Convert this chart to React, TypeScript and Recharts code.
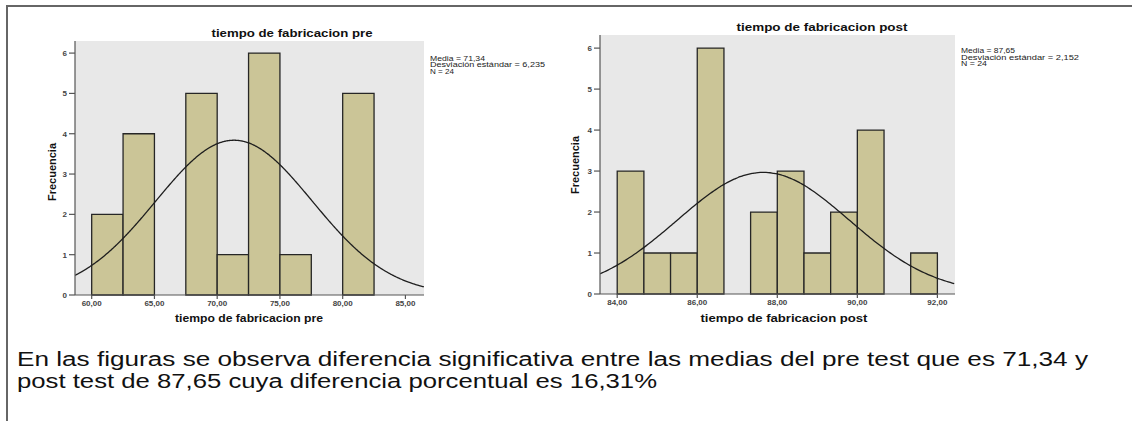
import {
    ComposedChart,
    XAxis,
    YAxis,
    Line,
    ReferenceArea,
    CartesianGrid,
} from "recharts";

// histogram bins: left edge of each bin and its frequency
const PRE_BIN_STARTS = [60, 62.5, 65, 67.5, 70, 72.5, 75, 77.5, 80];
const PRE_COUNTS = [2, 4, 0, 5, 1, 6, 1, 0, 5];
const PRE_BIN_WIDTH = 2.5;
const PRE_X_TICKS = [60, 65, 70, 75, 80, 85];
const PRE_X_DOMAIN = [58.67, 86.48];
const PRE_STATS = { media: 71.34, sd: 6.235, n: 24 };

const POST_BIN_STARTS = [84, 84.667, 85.333, 86, 86.667, 87.333, 88, 88.667, 89.333, 90, 90.667, 91.333];
const POST_COUNTS = [3, 1, 1, 6, 0, 2, 3, 1, 2, 4, 0, 1];
const POST_BIN_WIDTH = 0.667;
const POST_X_TICKS = [84, 86, 88, 90, 92];
const POST_X_DOMAIN = [83.57, 92.44];
const POST_STATS = { media: 87.65, sd: 2.152, n: 24 };

const Y_TICKS = [0, 1, 2, 3, 4, 5, 6];

const BAR_FILL = "#cbc597";
const BAR_STROKE = "#262626";
const PLOT_BG = "#e8e8e8";
const FRAME = "#555";

const FONT = "'Liberation Sans', Arial, sans-serif";

const fmt = (v: number) => v.toFixed(2).replace(".", ",");

// fitted normal curve (frequency scale) over the x domain
function normalCurve(domain: number[], mean: number, sd: number, n: number, bw: number) {
    const pts: { x: number; y: number }[] = [];
    const k = (n * bw) / (sd * Math.sqrt(2 * Math.PI));
    for (let x = domain[0]; x <= domain[1] + 1e-9; x += 0.05) {
        pts.push({ x, y: k * Math.exp(-((x - mean) ** 2) / (2 * sd * sd)) });
    }
    return pts;
}

type HistProps = {
    starts: number[];
    counts: number[];
    bw: number;
    ticks: number[];
    domain: number[];
    stats: { media: number; sd: number; n: number };
    yMax: number;
    width: number;
    height: number;
    xAxisHeight: number;
    marginTop: number;
};

function Histogram(p: HistProps) {
    const curve = normalCurve(p.domain, p.stats.media, p.stats.sd, p.stats.n, p.bw);
    const tickStyle = { fill: "#444", fontSize: 8, fontWeight: 700, fontFamily: FONT };
    return (
        <ComposedChart
            width={p.width}
            height={p.height}
            data={curve}
            margin={{ top: p.marginTop, right: 6, bottom: 5, left: 0 }}
        >
            <CartesianGrid horizontal={false} vertical={false} fill={PLOT_BG} fillOpacity={1} />
            <XAxis
                dataKey="x"
                type="number"
                domain={p.domain}
                ticks={p.ticks}
                tickFormatter={fmt}
                allowDataOverflow
                height={p.xAxisHeight}
                tickSize={4}
                tickMargin={1}
                tick={tickStyle}
                stroke={FRAME}
                strokeWidth={1.2}
            />
            <XAxis
                xAxisId="top"
                orientation="top"
                type="number"
                domain={p.domain}
                allowDataOverflow
                height={0}
                tick={false}
                tickLine={false}
                stroke={FRAME}
                strokeWidth={1.2}
            />
            <YAxis
                type="number"
                domain={[0, p.yMax]}
                ticks={Y_TICKS}
                allowDataOverflow
                width={45}
                tickSize={6}
                tickMargin={2}
                tick={tickStyle}
                stroke={FRAME}
                strokeWidth={1.2}
            />
            <YAxis
                yAxisId="right"
                orientation="right"
                type="number"
                domain={[0, p.yMax]}
                allowDataOverflow
                width={0}
                tick={false}
                tickLine={false}
                stroke={FRAME}
                strokeWidth={1.2}
            />
            {p.starts.map((s, i) =>
                p.counts[i] > 0 ? (
                    <ReferenceArea
                        key={i}
                        x1={s}
                        x2={s + p.bw}
                        y1={0}
                        y2={p.counts[i]}
                        fill={BAR_FILL}
                        fillOpacity={1}
                        stroke={BAR_STROKE}
                        strokeWidth={1.3}
                        ifOverflow="visible"
                    />
                ) : null
            )}
            <Line
                dataKey="y"
                type="monotone"
                dot={false}
                stroke="#1e1e1e"
                strokeWidth={1.3}
                isAnimationActive={false}
            />
        </ComposedChart>
    );
}

export default function App() {
    const bold = { fontFamily: FONT, fontWeight: 700, fill: "#111" };
    const small = { fontFamily: FONT, fontSize: 7, fill: "#222" };
    return (
        <div
            style={{
                position: "absolute",
                left: 0,
                top: 0,
                width: 1132,
                height: 421,
                background: "#fff",
                overflow: "hidden",
            }}
        >
            <div style={{ position: "absolute", left: 30, top: 20 }}>
                <Histogram
                    starts={PRE_BIN_STARTS}
                    counts={PRE_COUNTS}
                    bw={PRE_BIN_WIDTH}
                    ticks={PRE_X_TICKS}
                    domain={PRE_X_DOMAIN}
                    stats={PRE_STATS}
                    yMax={6.3}
                    width={400}
                    height={300}
                    xAxisHeight={20}
                    marginTop={21}
                />
            </div>
            <div style={{ position: "absolute", left: 555, top: 15 }}>
                <Histogram
                    starts={POST_BIN_STARTS}
                    counts={POST_COUNTS}
                    bw={POST_BIN_WIDTH}
                    ticks={POST_X_TICKS}
                    domain={POST_X_DOMAIN}
                    stats={POST_STATS}
                    yMax={6.32}
                    width={406}
                    height={300}
                    xAxisHeight={16}
                    marginTop={20}
                />
            </div>
            <svg
                width={1132}
                height={421}
                style={{ position: "absolute", left: 0, top: 0, pointerEvents: "none" }}
            >
                {/* outer frame */}
                <line x1={7} y1={6} x2={1132} y2={6} stroke="#666" strokeWidth={2} />
                <line x1={7} y1={5} x2={7} y2={421} stroke="#666" strokeWidth={2} />

                {/* pre */}
                <text x={292} y={36.5} textAnchor="middle" fontSize={11} textLength={161} lengthAdjust="spacingAndGlyphs" {...bold}>
                    tiempo de fabricacion pre
                </text>
                <text x={249} y={322} textAnchor="middle" fontSize={10.5} textLength={148} lengthAdjust="spacingAndGlyphs" {...bold}>
                    tiempo de fabricacion pre
                </text>
                <text transform="translate(56,172) rotate(-90)" textAnchor="middle" fontSize={11} {...bold}>
                    Frecuencia
                </text>
                <text x={430} y={60.5} textLength={55} lengthAdjust="spacingAndGlyphs" {...small}>
                    Media = {fmt(PRE_STATS.media)}
                </text>
                <text x={430} y={67} textLength={115} lengthAdjust="spacingAndGlyphs" {...small}>
                    Desviación estándar = {PRE_STATS.sd.toFixed(3).replace(".", ",")}
                </text>
                <text x={430} y={73.5} textLength={24} lengthAdjust="spacingAndGlyphs" {...small}>
                    N = {PRE_STATS.n}
                </text>

                {/* post */}
                <text x={822} y={31} textAnchor="middle" fontSize={11} textLength={171} lengthAdjust="spacingAndGlyphs" {...bold}>
                    tiempo de fabricacion post
                </text>
                <text x={784} y={322} textAnchor="middle" fontSize={10.5} textLength={167} lengthAdjust="spacingAndGlyphs" {...bold}>
                    tiempo de fabricacion post
                </text>
                <text transform="translate(579,165) rotate(-90)" textAnchor="middle" fontSize={11} {...bold}>
                    Frecuencia
                </text>
                <text x={961} y={53} textLength={54} lengthAdjust="spacingAndGlyphs" {...small}>
                    Media = {fmt(POST_STATS.media)}
                </text>
                <text x={961} y={59.5} textLength={118} lengthAdjust="spacingAndGlyphs" {...small}>
                    Desviación estándar = {POST_STATS.sd.toFixed(3).replace(".", ",")}
                </text>
                <text x={961} y={66} textLength={26} lengthAdjust="spacingAndGlyphs" {...small}>
                    N = {POST_STATS.n}
                </text>

                {/* caption */}
                <text x={17} y={366} fontSize={20} fontFamily={FONT} fill="#111" textLength={1071} lengthAdjust="spacingAndGlyphs">
                    En las figuras se observa diferencia significativa entre las medias del pre test que es 71,34 y
                </text>
                <text x={17} y={388} fontSize={20} fontFamily={FONT} fill="#111" textLength={640} lengthAdjust="spacingAndGlyphs">
                    post test de 87,65 cuya diferencia porcentual es 16,31%
                </text>
            </svg>
        </div>
    );
}
